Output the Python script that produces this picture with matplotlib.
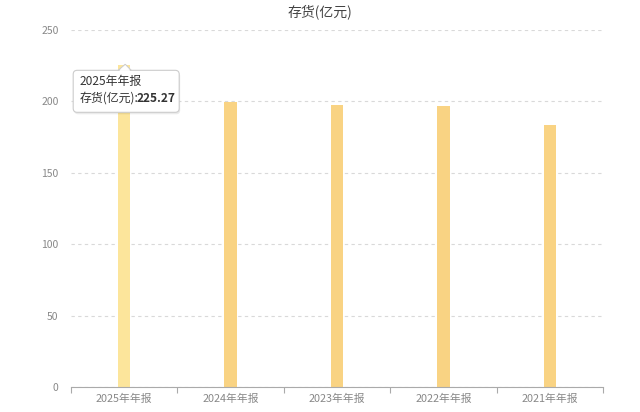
import matplotlib
matplotlib.use('Agg')
import matplotlib.pyplot as plt
from matplotlib.patches import FancyBboxPatch, Polygon
from matplotlib.transforms import Affine2D, ScaledTranslation

plt.rcParams['font.family'] = ['Noto Sans CJK SC', 'DejaVu Sans']

categories = ['2025年年报', '2024年年报', '2023年年报', '2022年年报', '2021年年报']
values = [225.27, 199.4, 197.5, 196.8, 183.8]
y_ticks = [0, 50, 100, 150, 200, 250]

bar_colors = ['#fce59b'] + ['#f9d383'] * 4

fig = plt.figure(figsize=(6.4, 4.12), dpi=100)
ax = fig.add_axes([71 / 640, 1 - 387 / 412, 532 / 640, 357 / 412])

x = list(range(len(categories)))
ax.bar(x, values, width=0.115, color=bar_colors, zorder=2)

ax.set_xlim(-0.5, len(categories) - 0.5)
ax.set_ylim(0, 250)
ax.set_yticks(y_ticks)
ax.set_yticklabels([str(v) for v in y_ticks], fontsize=7.5, color='#888888')
ax.set_xticks(x)
ax.set_xticklabels(categories, fontsize=7.8, color='#888888')
ax.tick_params(axis='x', length=0, pad=5)
ax.tick_params(axis='y', length=0, pad=9)
# boundary ticks under the axis line
ax.set_xticks([i - 0.5 for i in range(len(categories) + 1)], minor=True)
ax.tick_params(axis='x', which='minor', length=4, color='#aaaaaa', width=0.8)

ax.grid(axis='y', color='#d9d9d9', linestyle=(0, (3, 3)), linewidth=0.8, zorder=0)
for s in ['top', 'right', 'left']:
    ax.spines[s].set_visible(False)
ax.spines['bottom'].set_color('#aaaaaa')
ax.spines['bottom'].set_linewidth(0.8)

fig.text(0.5, 1 - 12 / 412, '存货(亿元)', ha='center', va='center', fontsize=10, color='#444444')

# tooltip over the first bar, sized in pixels from the bar top
tr = Affine2D() + ScaledTranslation(x[0], values[0], ax.transData)
box = FancyBboxPatch((-51, -47), 106, 42, boxstyle='round,pad=0,rounding_size=4',
                     transform=tr, facecolor='white', edgecolor='#cccccc',
                     linewidth=0.8, zorder=5)
shadow = FancyBboxPatch((-50, -49), 106, 42, boxstyle='round,pad=0,rounding_size=4',
                        transform=tr, facecolor='#000000', alpha=0.08,
                        edgecolor='none', zorder=4)
arrow = Polygon([(-6, -5), (1, 1), (7, -5)], closed=True, transform=tr,
                facecolor='white', edgecolor='#cccccc', linewidth=0.8, zorder=5)
arrow_cover = Polygon([(-5, -5.6), (6, -5.6), (1, 0)], closed=True, transform=tr,
                      facecolor='white', edgecolor='none', zorder=6)
for p in [shadow, box, arrow, arrow_cover]:
    ax.add_artist(p)
    p.set_clip_on(False)

t1 = ax.text(-45, -16, categories[0], transform=tr, fontsize=8.6, color='#333333',
             ha='left', va='center', zorder=7)
t2 = ax.text(-45, -33, '存货(亿元):', transform=tr, fontsize=8.6, color='#333333',
             ha='left', va='center', zorder=7)
ax.annotate(f'{values[0]:.2f}', xy=(1, 0.5), xycoords=t2, xytext=(-1, 0),
            textcoords='offset pixels', fontsize=8.6,
            fontweight='bold', color='#333333', ha='left', va='center', zorder=7)

fig.savefig('out.png', dpi=100)
